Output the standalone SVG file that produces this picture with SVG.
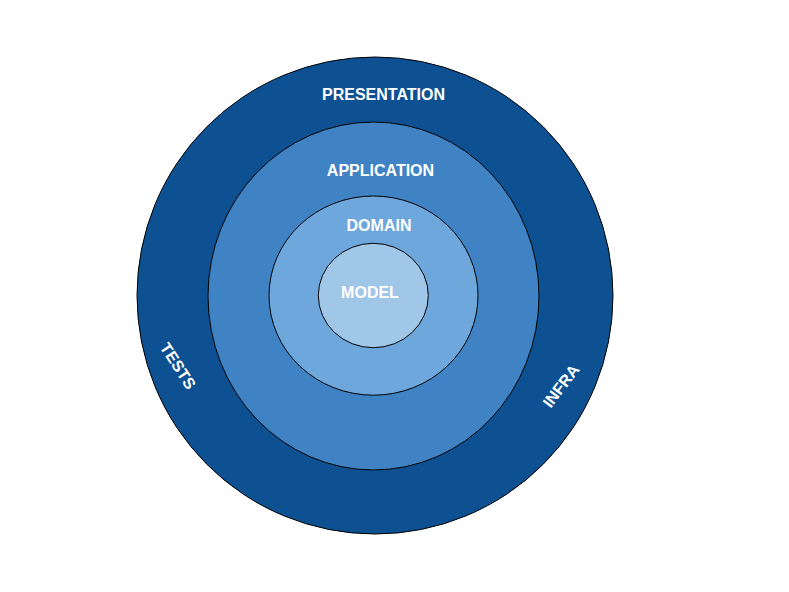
<svg xmlns="http://www.w3.org/2000/svg" width="789" height="592" viewBox="0 0 789 592">
<style>
.ring{stroke:#000;stroke-width:1}
.lbl{font-family:"Liberation Sans",Arial,sans-serif;font-weight:bold;font-size:16px;fill:#fff;text-anchor:middle}
</style>
<rect width="789" height="592" fill="#fff"/>
<g id="presentation">
<ellipse class="ring" cx="375" cy="295.5" rx="238" ry="238.5" fill="#0D5192"/>
<text class="lbl" x="383.5" y="100">PRESENTATION</text>
<text class="lbl" transform="translate(178,366) rotate(57)" dominant-baseline="central">TESTS</text>
<text class="lbl" transform="translate(561,386) rotate(-53)" dominant-baseline="central">INFRA</text>
</g>
<g id="application">
<ellipse class="ring" cx="373.5" cy="296" rx="165.5" ry="174" fill="#3F83C4"/>
<text class="lbl" x="380.5" y="176">APPLICATION</text>
</g>
<g id="domain">
<ellipse class="ring" cx="373.5" cy="295.6" rx="104.5" ry="99.6" fill="#6DA7DB"/>
<text class="lbl" x="379" y="231">DOMAIN</text>
</g>
<g id="model">
<ellipse class="ring" cx="373.3" cy="295.5" rx="55" ry="52.2" fill="#A0C6E8"/>
<text class="lbl" x="370" y="298">MODEL</text>
</g>
<g id="connectors"/>
</svg>
